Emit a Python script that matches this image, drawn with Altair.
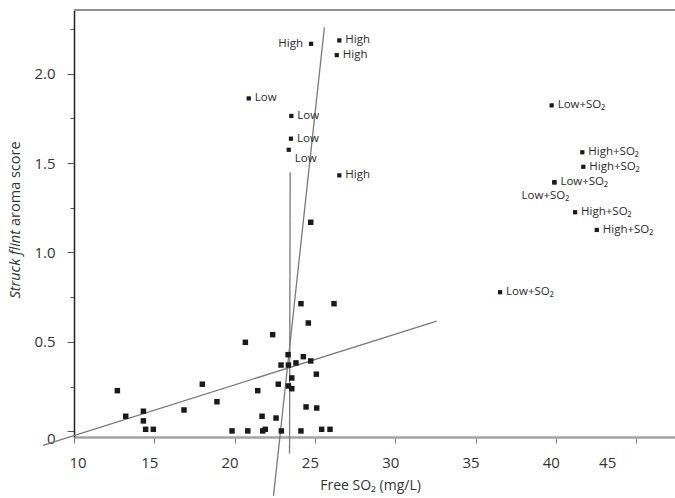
import altair as alt
import pandas as pd

# Unlabelled points (Free SO2 mg/L, Struck flint score)
cluster_x = [12.70, 13.22, 14.32, 14.32, 14.46, 14.94, 16.85, 17.99, 18.90, 19.84,
             20.67, 20.82, 21.44, 21.71, 21.75, 21.91, 22.37, 22.58, 22.72, 22.89,
             22.91, 23.33, 23.35, 23.35, 23.56, 23.56, 23.82, 24.13, 24.13, 24.28,
             24.45, 24.59, 24.74, 25.09, 25.11, 25.42, 25.94, 26.19, 24.74]
cluster_y = [0.228, 0.085, 0.113, 0.059, 0.012, 0.012, 0.120, 0.264, 0.166, 0.003,
             0.498, 0.003, 0.228, 0.085, 0.003, 0.012, 0.541, 0.075, 0.264, 0.371,
             0.003, 0.429, 0.371, 0.254, 0.299, 0.239, 0.383, 0.714, 0.003, 0.418,
             0.137, 0.606, 0.394, 0.320, 0.131, 0.012, 0.012, 0.714, 1.169]

# Labelled points
lab_x = [24.76, 26.52, 26.36, 20.88, 23.53, 23.51, 23.37, 26.52, 36.53, 39.74,
         41.65, 41.71, 39.91, 39.91, 41.20, 42.55]
lab_y = [2.166, 2.185, 2.103, 1.861, 1.763, 1.636, 1.574, 1.431, 0.778, 1.822,
         1.560, 1.479, 1.392, 1.392, 1.225, 1.126]
lab_text = ["High", "High", "High", "Low", "Low", "Low", "Low", "High", "Low+SO₂", "Low+SO₂",
            "High+SO₂", "High+SO₂", "Low+SO₂", "Low+SO₂", "High+SO₂", "High+SO₂"]
lab_side = ["left", "right", "right", "right", "right", "right", "below", "right", "right", "right",
            "right", "right", "right", "belowleft", "right", "right"]

# Fitted lines
line_id = ["fit", "fit", "vert", "vert", "steep", "steep"]
line_x = [8.07, 32.58, 23.46, 23.42, 25.59, 22.42]
line_y = [-0.078, 0.617, 1.448, -0.123, 2.258, -0.360]

x_ticks = [10, 15, 20, 25, 30, 35, 40, 45]
y_ticks = [0, 0.25, 0.5, 0.75, 1.0, 1.25, 1.5, 1.75, 2.0, 2.25]
y_title_parts = ["Struck flint", "aroma score"]

W, H = 601, 427
FONT = "Open Sans"

cluster = pd.DataFrame({"x": cluster_x, "y": cluster_y})
labeled = pd.DataFrame({"x": lab_x, "y": lab_y, "label": lab_text, "side": lab_side})
lines = pd.DataFrame({"id": line_id, "x": line_x, "y": line_y})

xs = alt.Scale(domain=[10, 47.42], nice=False, zero=False)
ys = alt.Scale(domain=[-0.031, 2.355], nice=False, zero=False)

xenc = alt.X("x:Q", scale=xs, axis=alt.Axis(
    values=x_ticks, title="Free SO₂ (mg/L)", grid=False,
    domainColor="#a3a3a3", domainWidth=2.5, tickColor="#777", tickSize=6, tickWidth=1,
    labelFontSize=15, labelColor="#333", labelPadding=12, labelFont=FONT,
    labelOffset=alt.condition("datum.value == 45", alt.value(-29), alt.value(-5)),
    titleFontSize=14, titleFontWeight="normal", titleColor="#333", titleFont=FONT,
    titleBaseline="middle", titleY=48, titleX=296))
yenc = alt.Y("y:Q", scale=ys, axis=alt.Axis(
    values=y_ticks, title=None, grid=False, labelFont=FONT,
    labelExpr="datum.value % 0.5 == 0 ? (datum.value == 0 ? '0' : format(datum.value, '.1f')) : ''",
    domainColor="#222", domainWidth=1.5, tickColor="#555", tickWidth=1,
    tickSize=alt.condition("datum.value % 0.5 == 0", alt.value(7), alt.value(4)),
    labelFontSize=15, labelColor="#333", labelPadding=12,
    labelOffset=alt.condition("datum.value == 0", alt.value(7), alt.value(0))))

base_lines = alt.Chart(lines).mark_line(color="#7a7a7a", strokeWidth=1.3, clip=False).encode(
    x=xenc, y=yenc, detail="id:N")

pts = alt.Chart(cluster).mark_point(shape="square", filled=True, color="#1a1a1a",
                                    size=30, opacity=1).encode(x=xenc, y=yenc)
lpts = alt.Chart(labeled).mark_point(shape="square", filled=True, color="#1a1a1a",
                                     size=18, opacity=1).encode(x=xenc, y=yenc)

def lab(side, **kw):
    return alt.Chart(labeled).transform_filter(alt.datum.side == side).mark_text(
        font=FONT, fontSize=11.5, color="#2a2a2a", baseline="middle", **kw).encode(
        x=xenc, y=yenc, text="label:N")

labels = (lab("right", align="left", dx=6) + lab("left", align="right", dx=-8) +
          lab("below", align="left", dx=6, dy=9) + lab("belowleft", align="center", dx=-9, dy=14))

ytitle = pd.DataFrame({"t": y_title_parts})
yt1 = alt.Chart(ytitle).transform_filter(alt.datum.t == y_title_parts[0]).mark_text(
    font=FONT, fontSize=14.5, fontStyle="italic", color="#333", angle=270,
    align="right", baseline="middle").encode(x=alt.value(-58), y=alt.value(220), text="t:N")
yt2 = alt.Chart(ytitle).transform_filter(alt.datum.t == y_title_parts[1]).mark_text(
    font=FONT, fontSize=14.5, color="#333", angle=270,
    align="left", baseline="middle").encode(x=alt.value(-58), y=alt.value(216), text="t:N")

top_border = alt.Chart(ytitle).mark_rule(color="#8a8a8a", strokeWidth=1.5).encode(
    x=alt.value(0), x2=alt.value(W), y=alt.value(0))

chart = alt.layer(top_border, base_lines, pts, lpts, labels, yt1, yt2).properties(
    width=W, height=H,
    autosize=alt.AutoSizeParams(type="none"),
    padding={"left": 74, "top": 10, "right": 0, "bottom": 61},
).configure_view(stroke=None, fill="#e6e8ed").configure(font=FONT)

chart.save("out.html", embed_options={"renderer": "svg", "actions": False})
